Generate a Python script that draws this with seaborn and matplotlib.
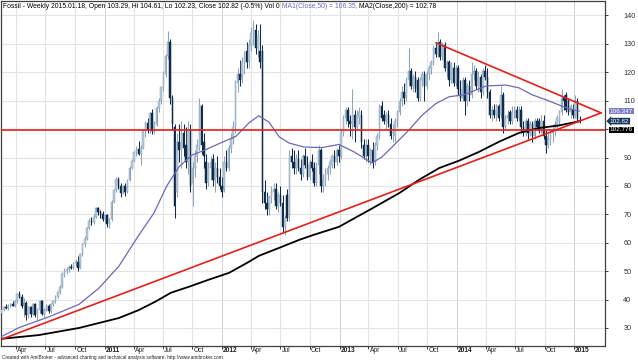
import numpy as np
import pandas as pd
import matplotlib
matplotlib.use("Agg")
import matplotlib.pyplot as plt
import matplotlib.dates as mdates
import matplotlib.transforms as mtrans
import seaborn as sns

# ---------------- data ----------------
start_date = "2010-02-14"   # first weekly bar
opens = [35.4, 36.4, 37.4, 36.9, 37.9, 38.4, 37.9, 39.4, 41.9, 40.9,
         37.9, 38.9, 34.4, 37.4, 34.9, 38.4, 34.9, 36.4, 39.4, 34.9,
         36.4, 37.7, 35.9, 38.4, 39.4, 41.0, 42.6, 44.6, 49.1, 50.1,
         50.6, 51.6, 51.1, 52.8, 53.4, 51.1, 55.9, 59.4, 61.4, 65.2,
         67.7, 67.2, 69.2, 72.2, 70.7, 70.2, 68.2, 69.7, 66.7, 68.2,
         74.5, 78.5, 82.5, 80.0, 77.5, 80.0, 78.0, 82.0, 86.4, 88.9,
         91.9, 92.9, 91.4, 93.4, 99.2, 102.2, 99.7, 105.5, 99.2, 101.7,
         107.5, 110.0, 114.8, 119.3, 125.6, 130.6, 111.0, 100.7, 78.0, 95.5,
         92.5, 98.7, 94.5, 88.4, 99.7, 81.1, 86.4, 90.4, 93.5, 108.0,
         95.5, 88.4, 81.0, 86.4, 89.4, 82.2, 86.4, 83.3, 80.0, 79.0,
         88.4, 86.4, 93.5, 96.6, 100.7, 116.3, 119.3, 118.3, 123.5, 127.6,
         123.5, 129.7, 133.8, 134.8, 128.6, 127.6, 127.6, 78.0, 74.0, 72.0,
         76.0, 78.0, 79.0, 72.9, 76.9, 73.9, 65.7, 76.9, 69.8, 90.4,
         88.4, 86.4, 89.4, 86.4, 84.3, 90.4, 87.4, 83.2, 88.4, 86.4,
         81.1, 87.4, 92.5, 80.1, 82.2, 84.3, 86.4, 87.4, 90.4, 88.4,
         92.5, 90.4, 98.7, 103.9, 106.9, 102.8, 101.8, 104.9, 100.8, 103.9,
         104.9, 94.5, 90.4, 94.5, 90.4, 92.5, 88.4, 94.5, 97.7, 108.0,
         104.9, 102.8, 104.9, 101.8, 98.7, 97.7, 102.8, 105.9, 110.0, 113.1,
         111.1, 117.3, 120.4, 115.2, 118.3, 117.3, 111.1, 117.3, 119.3, 115.2,
         119.3, 121.4, 123.5, 128.6, 126.6, 130.7, 125.5, 129.7, 121.4, 123.5,
         117.3, 121.4, 116.3, 121.4, 114.2, 111.1, 117.3, 110.0, 115.2, 112.1,
         119.3, 120.4, 115.2, 118.3, 113.1, 120.4, 118.3, 113.1, 104.9, 106.9,
         104.9, 108.0, 104.9, 112.1, 100.8, 103.9, 105.9, 102.8, 105.9, 106.9,
         103.9, 106.9, 100.8, 98.7, 102.8, 98.7, 101.8, 97.7, 102.8, 102.8,
         99.7, 102.8, 97.7, 94.5, 96.6, 98.7, 99.7, 101.8, 102.8, 105.9,
         111.1, 112.1, 110.0, 105.9, 106.9, 104.9, 110.0, 103.29]
highs = [36.8, 37.8, 38.4, 38.4, 38.9, 39.4, 39.7, 42.4, 42.9, 41.9,
         40.4, 39.4, 37.9, 37.9, 38.9, 38.9, 36.9, 39.9, 39.9, 36.9,
         38.4, 38.4, 38.9, 39.9, 41.5, 43.1, 45.1, 49.6, 51.1, 51.6,
         52.1, 52.6, 53.3, 54.4, 55.4, 56.4, 59.9, 62.4, 65.7, 68.7,
         69.2, 70.2, 72.7, 72.7, 71.7, 71.2, 70.2, 70.2, 68.7, 75.0,
         79.0, 83.0, 83.0, 81.0, 80.5, 81.0, 82.5, 86.9, 89.4, 92.4,
         93.9, 95.7, 94.4, 99.7, 102.7, 104.0, 106.0, 107.0, 102.7, 108.0,
         111.0, 115.3, 120.3, 126.6, 134.4, 131.6, 112.0, 101.7, 98.7, 101.7,
         102.7, 101.7, 100.7, 102.7, 101.7, 88.4, 92.5, 96.6, 111.0, 109.0,
         98.7, 91.4, 88.4, 90.4, 91.4, 88.4, 90.4, 86.4, 83.3, 90.4,
         92.5, 94.5, 98.7, 102.7, 117.3, 121.4, 124.5, 125.5, 127.6, 130.7,
         131.7, 135.8, 138.4, 136.9, 134.8, 136.9, 129.7, 82.2, 78.0, 76.9,
         80.1, 81.1, 81.1, 78.0, 80.1, 76.9, 69.8, 79.0, 92.5, 93.5,
         92.5, 91.4, 92.5, 89.4, 91.4, 93.5, 90.4, 89.4, 91.4, 88.4,
         88.4, 94.5, 93.5, 84.3, 86.4, 87.4, 89.4, 91.4, 92.5, 93.5,
         94.5, 99.7, 104.9, 107.9, 107.9, 104.9, 114.2, 106.9, 106.9, 107.9,
         106.9, 96.6, 96.6, 96.6, 93.5, 95.6, 95.6, 98.7, 109.0, 110.0,
         106.9, 105.9, 106.9, 103.9, 101.8, 103.9, 106.9, 111.1, 115.2, 116.3,
         118.3, 128.6, 121.4, 119.3, 120.4, 118.3, 118.3, 120.4, 120.4, 120.4,
         122.4, 124.5, 129.7, 130.7, 134.3, 131.7, 130.7, 130.7, 124.5, 124.5,
         123.5, 123.5, 122.4, 122.4, 117.3, 118.3, 118.3, 116.3, 117.3, 123.5,
         122.4, 121.4, 120.4, 119.3, 121.4, 122.4, 121.4, 114.2, 108.0, 109.0,
         109.0, 109.0, 115.2, 113.1, 104.9, 106.9, 106.9, 108.0, 108.0, 108.0,
         108.0, 108.0, 102.8, 103.9, 103.9, 102.8, 102.8, 103.9, 103.9, 103.9,
         104.9, 104.9, 99.7, 98.7, 99.7, 100.8, 102.8, 104.9, 106.9, 114.2,
         112.1, 113.1, 111.1, 109.0, 109.0, 112.1, 111.1, 104.61]
lows = [34.4, 35.9, 36.7, 36.4, 37.4, 37.7, 37.4, 38.9, 40.4, 36.9,
        33.9, 32.9, 33.4, 33.9, 34.4, 33.9, 32.9, 35.4, 34.4, 33.9,
        35.9, 35.4, 35.4, 37.9, 38.7, 40.5, 42.1, 44.1, 48.1, 49.1,
        49.6, 50.6, 50.6, 51.8, 50.1, 50.6, 55.4, 58.4, 61.0, 64.7,
        66.2, 66.7, 68.7, 69.7, 68.7, 67.7, 67.2, 65.7, 65.2, 67.7,
        74.0, 78.0, 79.0, 76.0, 77.0, 76.5, 77.5, 81.9, 85.9, 88.4,
        90.4, 90.9, 87.4, 93.0, 97.2, 98.7, 98.7, 98.2, 98.2, 101.2,
        106.0, 109.0, 113.3, 118.3, 124.6, 109.0, 99.7, 68.7, 76.0, 88.4,
        86.4, 90.4, 86.4, 84.3, 78.0, 72.9, 83.3, 88.4, 92.5, 91.4,
        86.4, 79.0, 80.0, 82.2, 80.0, 78.0, 81.1, 79.0, 76.0, 78.0,
        85.3, 85.3, 91.5, 94.6, 98.7, 113.2, 115.2, 116.3, 119.3, 121.4,
        121.4, 127.6, 129.7, 126.6, 125.5, 121.4, 74.0, 72.0, 69.8, 69.8,
        74.0, 75.0, 72.0, 71.0, 72.9, 63.6, 62.6, 67.8, 67.8, 86.4,
        84.3, 84.3, 85.3, 82.2, 83.2, 86.4, 82.2, 82.2, 85.3, 80.1,
        80.1, 84.3, 78.0, 78.0, 80.1, 82.2, 84.3, 86.4, 86.4, 87.4,
        88.4, 89.4, 97.7, 101.8, 100.8, 97.7, 96.6, 95.6, 99.7, 101.8,
        93.5, 89.4, 88.4, 88.4, 87.4, 86.4, 87.4, 92.5, 96.6, 102.8,
        101.8, 99.7, 100.8, 96.6, 95.6, 95.6, 100.8, 104.9, 108.0, 109.0,
        110.0, 115.2, 114.2, 113.1, 113.1, 110.0, 110.0, 115.2, 110.0, 114.2,
        117.3, 119.3, 122.4, 125.5, 125.5, 124.5, 124.5, 120.4, 118.3, 115.2,
        116.3, 115.2, 115.2, 112.1, 110.0, 110.0, 104.9, 108.0, 110.0, 111.1,
        117.3, 114.2, 113.1, 111.1, 112.1, 117.3, 111.1, 103.9, 102.8, 103.9,
        102.8, 102.8, 103.9, 98.7, 99.7, 101.8, 101.8, 101.8, 103.9, 102.8,
        102.8, 98.7, 97.7, 97.7, 96.6, 97.7, 95.6, 96.6, 99.7, 98.7,
        98.7, 96.6, 91.5, 93.5, 94.5, 95.6, 97.7, 99.7, 101.8, 104.9,
        106.9, 105.9, 104.9, 103.9, 103.9, 103.9, 102.5, 102.23]
closes = [36.4, 37.4, 36.9, 37.9, 38.4, 37.9, 39.4, 41.9, 40.9, 37.9,
          38.9, 34.4, 37.4, 34.9, 38.4, 34.7, 36.4, 39.4, 34.9, 36.4,
          37.7, 35.9, 38.4, 39.4, 41.0, 42.6, 44.6, 49.1, 50.1, 50.6,
          51.6, 51.1, 52.8, 53.4, 51.1, 55.9, 59.4, 61.4, 65.2, 67.7,
          67.2, 69.2, 72.2, 70.7, 70.2, 68.2, 69.7, 66.7, 68.2, 74.5,
          78.5, 82.5, 80.0, 77.5, 80.0, 78.0, 82.0, 86.4, 88.9, 91.9,
          92.9, 91.4, 93.4, 99.2, 102.2, 99.7, 105.5, 99.2, 101.7, 107.5,
          110.0, 114.8, 119.3, 125.6, 130.6, 111.0, 101.7, 72.9, 95.5, 92.5,
          98.7, 93.5, 88.4, 99.7, 80.1, 86.4, 90.4, 94.5, 109.0, 94.5,
          90.4, 81.0, 86.4, 88.4, 82.2, 86.4, 83.3, 80.0, 78.0, 88.4,
          86.4, 93.5, 96.6, 100.7, 116.3, 119.3, 117.3, 123.5, 125.5, 123.5,
          129.7, 133.8, 134.8, 128.6, 132.8, 123.5, 78.0, 74.0, 72.0, 76.0,
          78.0, 79.0, 72.9, 76.9, 73.9, 65.7, 68.8, 68.8, 90.4, 88.4,
          86.4, 89.4, 86.4, 84.3, 90.4, 87.4, 83.2, 88.4, 86.4, 81.1,
          87.4, 92.5, 80.1, 82.2, 84.3, 86.4, 88.4, 90.4, 88.4, 92.5,
          90.4, 98.7, 103.9, 106.9, 102.8, 101.8, 105.9, 100.8, 104.9, 105.9,
          95.6, 90.4, 94.5, 90.4, 92.5, 88.4, 94.5, 97.7, 108.0, 103.9,
          102.8, 104.9, 101.8, 97.7, 98.7, 102.8, 105.9, 110.0, 113.1, 111.1,
          117.3, 120.4, 115.2, 118.3, 114.2, 111.1, 117.3, 119.3, 115.2, 119.3,
          121.4, 123.5, 128.6, 126.6, 130.7, 125.5, 129.7, 121.4, 123.5, 117.3,
          122.4, 116.3, 121.4, 114.2, 111.1, 117.3, 110.0, 115.2, 112.1, 119.3,
          120.4, 115.2, 118.3, 113.1, 120.4, 118.3, 113.1, 104.9, 106.9, 104.9,
          108.0, 103.9, 112.1, 100.8, 103.9, 104.9, 102.8, 105.9, 106.9, 103.9,
          106.9, 100.8, 98.7, 102.8, 98.7, 101.8, 97.7, 102.8, 100.8, 99.7,
          102.8, 97.7, 94.5, 96.6, 98.7, 99.7, 101.8, 103.9, 105.9, 111.1,
          110.0, 106.9, 105.9, 108.0, 104.9, 110.0, 103.4, 102.82]

ma50_dates = ["2010-02-14", "2010-04-09", "2010-07-11", "2010-10-13", "2010-12-14",
              "2011-02-14", "2011-04-17", "2011-06-03", "2011-07-14", "2011-08-21",
              "2011-09-30", "2011-11-06", "2011-12-29", "2012-02-14", "2012-03-25",
              "2012-04-25", "2012-05-26", "2012-06-27", "2012-07-28", "2012-09-12",
              "2012-11-07", "2012-12-30", "2013-02-15", "2013-04-12", "2013-05-13",
              "2013-06-26", "2013-08-05", "2013-09-15", "2013-10-28", "2013-12-08",
              "2014-01-24", "2014-04-02", "2014-06-03", "2014-07-14", "2014-08-23",
              "2014-10-06", "2014-11-15", "2014-12-16", "2015-01-18"]
ma50_values = [27.0, 30.1, 33.9, 38.3, 44.0,
               51.7, 62.6, 70.4, 80.1, 86.8,
               90.9, 92.5, 95.2, 97.5, 102.2,
               104.7, 102.5, 97.3, 95.1, 93.7,
               93.5, 94.6, 92.0, 88.1, 90.2,
               95.1, 99.7, 104.9, 109.0, 111.4,
               112.1, 115.2, 115.5, 114.5, 112.1,
               110.3, 108.5, 107.2, 106.35]

ma200_dates = ["2010-02-14", "2010-06-10", "2010-10-13", "2011-02-14", "2011-04-17",
               "2011-06-10", "2011-07-26", "2011-09-20", "2011-11-21", "2012-01-23",
               "2012-03-25", "2012-04-25", "2012-06-27", "2012-08-28", "2012-10-13",
               "2012-12-30", "2013-04-03", "2013-07-06", "2013-09-06", "2013-11-07",
               "2014-01-08", "2014-03-11", "2014-05-13", "2014-07-14", "2014-09-14",
               "2014-11-15", "2015-01-18"]
ma200_values = [26.2, 27.5, 30.0, 33.5, 36.3,
                39.4, 42.4, 44.5, 47.0, 49.4,
                53.3, 55.4, 58.2, 61.0, 62.8,
                65.6, 71.5, 77.5, 82.2, 86.3,
                88.9, 92.0, 95.6, 98.7, 100.4,
                101.3, 102.78]

support_level = 99.8
trend_up_dates = ["2010-02-09", "2015-03-26"]
trend_up_values = [25.8, 105.7]
trend_down_dates = ["2013-10-28", "2015-03-26"]
trend_down_values = [130.4, 105.7]

tick_dates = ["2010-04-01", "2010-07-01", "2010-10-01", "2011-01-01",
              "2011-04-01", "2011-07-01", "2011-10-01", "2012-01-01",
              "2012-04-01", "2012-07-01", "2012-10-01", "2013-01-01",
              "2013-04-01", "2013-07-01", "2013-10-01", "2014-01-01",
              "2014-04-01", "2014-07-01", "2014-10-01", "2015-01-01"]
tick_labels = ["Apr", "Jul", "Oct", "2011", "Apr", "Jul", "Oct", "2012",
               "Apr", "Jul", "Oct", "2013", "Apr", "Jul", "Oct", "2014",
               "Apr", "Jul", "Oct", "2015"]
ytick_values = [30, 40, 50, 60, 70, 80, 90, 100, 110, 120, 130, 140]
ytick_labels = ["30", "40", "50", "60", "70", "80", "90", "", "110", "120", "130", "140"]

title_parts = ["Fossil - Weekly 2015.01.18, Open 103.29, Hi 104.61, Lo 102.23, Close 102.82 (-0.5%) Vol 0 ",
               "MA1(Close,50) = 106.35, ",
               "MA2(Close,200) = 102.78"]
footer = "Created with AmiBroker - advanced charting and technical analysis software. http://www.amibroker.com"
tag_ma50 = ("106.347", 106.347)
tag_close = ("102.82", 102.82)
tag_ma200 = ("102.776", 102.776)

# ---------------- drawing ----------------
sns.set_theme(style="white")
plt.rcParams["font.family"] = ["Liberation Sans", "DejaVu Sans"]

df = pd.DataFrame({"date": pd.date_range(start_date, periods=len(closes), freq="7D"),
                   "open": opens, "high": highs, "low": lows, "close": closes})
df["x"] = mdates.date2num(df["date"])
df["up"] = df["close"] >= df["open"]

fig = plt.figure(figsize=(6.38, 3.6), dpi=100)
ax = fig.add_axes([0.5 / 638, 14 / 360, 604.5 / 638, 345 / 360])
ax.set_facecolor("white")

xmin = mdates.date2num(pd.Timestamp("2010-02-11"))
xmax = mdates.date2num(pd.Timestamp("2015-04-07"))
ax.set_xlim(xmin, xmax)
ax.set_ylim(23.66, 145.1)

# grid
tick_x = mdates.date2num(pd.to_datetime(tick_dates))
for tx, lab in zip(tick_x, tick_labels):
    ax.axvline(tx, color="#d4d4d4" if lab.isdigit() else "#e4e4e4", lw=0.8, zorder=0)
for yv in ytick_values:
    ax.axhline(yv, color="#e4e4e4", lw=0.8, zorder=0)

# candles
up_col, up_edge, dn_col = "#b7c9da", "#8ea4ba", "#102c4c"
for is_up, face, edge in [(True, up_col, up_edge), (False, dn_col, dn_col)]:
    d = df[df["up"] == is_up]
    ax.vlines(d["x"], d["low"], d["high"], colors=edge, lw=0.75, zorder=2)
    body_lo = np.minimum(d["open"], d["close"])
    body_h = np.maximum(np.abs(d["close"] - d["open"]), 0.35)
    ax.bar(d["x"], body_h, bottom=body_lo, width=5.0, color=face,
           edgecolor=edge, linewidth=0.35, zorder=3)

# moving averages
sns.lineplot(x=mdates.date2num(pd.to_datetime(ma50_dates)), y=ma50_values, ax=ax,
             color="#6a6ab6", lw=0.9, zorder=4, estimator=None, sort=False)
sns.lineplot(x=mdates.date2num(pd.to_datetime(ma200_dates)), y=ma200_values, ax=ax,
             color="black", lw=1.3, zorder=4, estimator=None, sort=False)

# red study lines
red = "#e3201c"
ax.axhline(support_level, color=red, lw=1.2, zorder=5)
sns.lineplot(x=mdates.date2num(pd.to_datetime(trend_up_dates)), y=trend_up_values, ax=ax,
             color=red, lw=1.2, zorder=5, estimator=None, sort=False)
sns.lineplot(x=mdates.date2num(pd.to_datetime(trend_down_dates)), y=trend_down_values, ax=ax,
             color=red, lw=1.2, zorder=5, estimator=None, sort=False)

# axes / spines
for s in ax.spines.values():
    s.set_visible(True)
    s.set_color("#404040")
    s.set_linewidth(0.9)

ax.yaxis.tick_right()
ax.set_yticks(ytick_values)
ax.set_yticklabels(ytick_labels)
ax.tick_params(axis="y", which="major", direction="out", length=2.2, width=0.7,
               color="#404040", labelsize=5.2, labelcolor="#303030", pad=11,
               right=True, left=False)

ax.set_xticks(tick_x)
ax.set_xticklabels(tick_labels)
ax.tick_params(axis="x", which="major", direction="out", length=2.2, width=0.7,
               color="#404040", labelsize=4.8, labelcolor="#202020", pad=-1.6, bottom=True)
for lab in ax.get_xticklabels():
    lab.set_horizontalalignment("left")
    lab.set_transform(lab.get_transform() + mtrans.ScaledTranslation(0.8 / 72, 0, fig.dpi_scale_trans))
    if lab.get_text().isdigit():
        lab.set_fontweight("bold")
ax.set_xlabel("")
ax.set_ylabel("")

# value tags on the right axis
bt = mtrans.blended_transform_factory(ax.transAxes, ax.transData)
ax.text(1.008, tag_ma50[1], tag_ma50[0], transform=bt, ha="left", va="center", fontsize=4.6,
        color="white", clip_on=False, zorder=10,
        bbox=dict(boxstyle="square,pad=0.12", fc="#7d7dc6", ec="none"))
ax.text(1.008, tag_close[1], tag_close[0], transform=bt, ha="left", va="center", fontsize=4.6,
        color="white", clip_on=False, zorder=10,
        bbox=dict(boxstyle="larrow,pad=0.12", fc="#17375a", ec="none"))
ax.text(1.008, 99.75, tag_ma200[0], transform=bt, ha="left", va="center", fontsize=4.6,
        color="white", clip_on=False, zorder=10,
        bbox=dict(boxstyle="square,pad=0.12", fc="black", ec="none"))

# title (multi-coloured)
t1 = fig.text(3 / 638, 1 - 6.5 / 360, title_parts[0], fontsize=4.85, color="black",
              ha="left", va="center")
t2 = ax.annotate(title_parts[1], xy=(1, 0.5), xycoords=t1, fontsize=4.85, color="#6a6ab6",
                 ha="left", va="center", annotation_clip=False)
t3 = ax.annotate(title_parts[2], xy=(1, 0.5), xycoords=t2, fontsize=4.85, color="black",
                 ha="left", va="center", annotation_clip=False)

fig.text(2 / 638, 1 - 357.8 / 360, footer, fontsize=3.4, color="#202020", ha="left", va="center")

fig.savefig("out.png", dpi=100)
